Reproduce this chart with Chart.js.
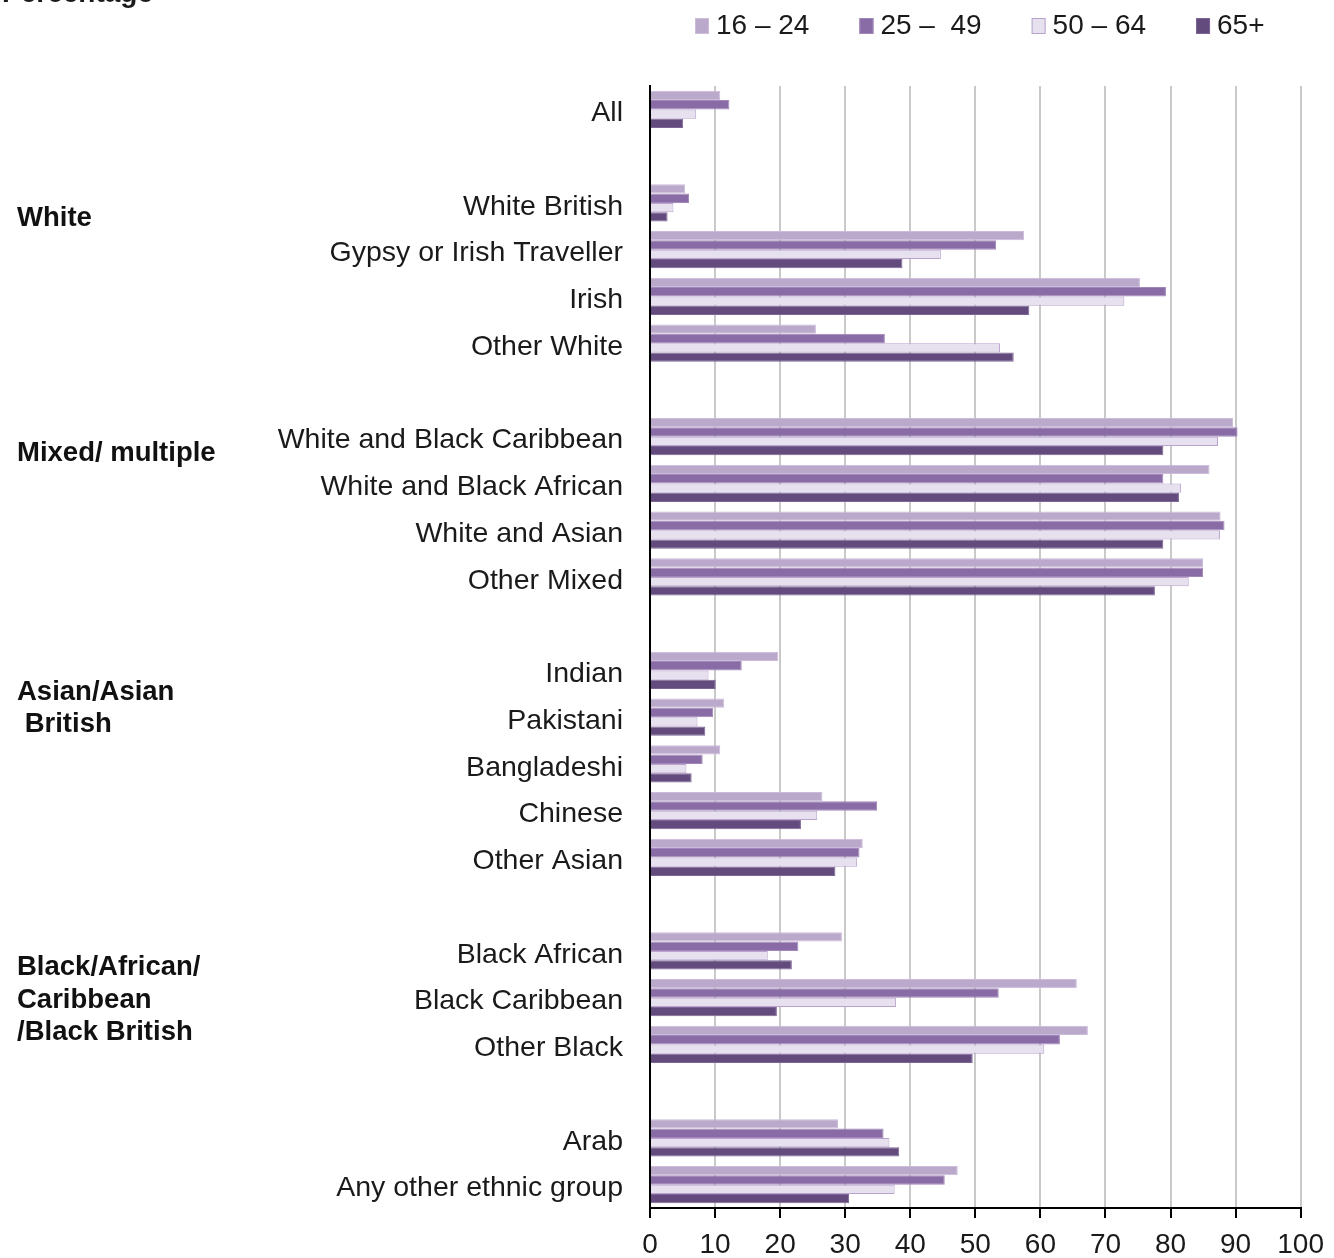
<!DOCTYPE html>
<html>
<head>
<meta charset="utf-8">
<script src="https://cdn.jsdelivr.net/npm/chart.js@4.4.0/dist/chart.umd.min.js"></script>
<style>
html,body{margin:0;padding:0;background:#ffffff;}
#wrap{width:1334px;height:1258px;position:relative;overflow:hidden;}
canvas{display:block;}
</style>
</head>
<body>
<div id="wrap"><canvas id="c" width="1334" height="1258"></canvas></div>
<script>
// ---------- data ----------
const categories = [
  'All', '',
  'White British', 'Gypsy or Irish Traveller', 'Irish', 'Other White', '',
  'White and Black Caribbean', 'White and Black African', 'White and Asian', 'Other Mixed', '',
  'Indian', 'Pakistani', 'Bangladeshi', 'Chinese', 'Other Asian', '',
  'Black African', 'Black Caribbean', 'Other Black', '',
  'Arab', 'Any other ethnic group'
];
const seriesLabels = ['16 \u2013 24', '25 \u2013  49', '50 \u2013 64', '65+'];
const age16to24 = [10.8, null, 5.4, 57.5, 75.3, 25.5, null, 89.6, 86.0, 87.7, 85.0, null, 19.7, 11.4, 10.8, 26.5, 32.7, null, 29.5, 65.6, 67.3, null, 28.9, 47.3];
const age25to49 = [12.2, null, 6.0, 53.2, 79.3, 36.1, null, 90.3, 78.9, 88.3, 85.0, null, 14.1, 9.7, 8.1, 34.9, 32.2, null, 22.8, 53.6, 63.0, null, 35.9, 45.3];
const age50to64 = [7.1, null, 3.6, 44.7, 72.9, 53.8, null, 87.3, 81.6, 87.6, 82.8, null, 9.0, 7.3, 5.6, 25.7, 31.8, null, 18.1, 37.8, 60.6, null, 36.8, 37.6];
const age65plus = [5.1, null, 2.7, 38.8, 58.3, 55.9, null, 78.9, 81.3, 78.9, 77.6, null, 10.1, 8.5, 6.4, 23.2, 28.5, null, 21.8, 19.5, 49.6, null, 38.3, 30.6];
const xTicks = [0, 10, 20, 30, 40, 50, 60, 70, 80, 90, 100];
const groupNames = [['White'], ['Mixed/ multiple'], ['Asian/Asian', ' British'], ['Black/African/', 'Caribbean', '/Black British']];
const groupAnchors = ['White British', 'White and Black Caribbean', 'Indian', 'Black African'];
const axisTitle = 'Percentage';

// ---------- styles ----------
const FONT = '"Liberation Sans", Arial, Helvetica, sans-serif';
const fills = ['#bba9cc', '#896ca5', '#e7e1ef', '#634b7e'];
const borders = ['#cbbcd9', '#a288ba', '#b9a3cd', '#7d6696'];
const groupOffsets = [16, 17, 22, 17];
const groupLineGap = 32.5;

const datasets = [age16to24, age25to49, age50to64, age65plus].map((d, i) => ({
  label: seriesLabels[i],
  data: d,
  backgroundColor: fills[i],
  borderColor: borders[i],
  borderWidth: 1,
  categoryPercentage: 0.8,
  barPercentage: 1.0
}));

const decorPlugin = {
  id: 'decor',
  afterDraw(chart) {
    const ctx = chart.ctx;
    const y = chart.scales.y;
    ctx.save();
    // axis title (partly above the canvas, as in the reference)
    ctx.fillStyle = '#1a1a1a';
    ctx.font = 'bold 28px ' + FONT;
    ctx.textAlign = 'left';
    ctx.textBaseline = 'alphabetic';
    ctx.fillText(axisTitle, 2, 2);

    // group labels
    ctx.font = 'bold 27.5px ' + FONT;
    ctx.textBaseline = 'middle';
    ctx.fillStyle = '#111111';
    groupNames.forEach((lines, gi) => {
      const idx = categories.indexOf(groupAnchors[gi]);
      const base = y.getPixelForValue(idx) + groupOffsets[gi];
      lines.forEach((ln, li) => {
        ctx.fillText(ln, 17, base + li * groupLineGap);
      });
    });

    // legend
    ctx.font = '28px ' + FONT;
    ctx.textBaseline = 'middle';
    let x = 695;
    const ly = 26;
    chart.data.datasets.forEach((ds) => {
      ctx.fillStyle = ds.backgroundColor;
      ctx.fillRect(x, ly - 8, 14, 16);
      ctx.strokeStyle = ds.borderColor;
      ctx.lineWidth = 1;
      ctx.strokeRect(x + 0.5, ly - 7.5, 13, 15);
      ctx.fillStyle = '#1a1a1a';
      ctx.fillText(ds.label, x + 21, ly);
      x += 21 + ctx.measureText(ds.label).width + 50;
    });
    ctx.restore();
  }
};

new Chart(document.getElementById('c'), {
  type: 'bar',
  data: { labels: categories, datasets },
  options: {
    indexAxis: 'y',
    responsive: false,
    animation: false,
    layout: { padding: { top: 86, right: 33, left: 0, bottom: 0 } },
    plugins: {
      legend: { display: false },
      tooltip: { enabled: false }
    },
    scales: {
      x: {
        type: 'linear',
        position: 'bottom',
        min: 0,
        max: 100,
        afterBuildTicks: (s) => { s.ticks = xTicks.map(v => ({ value: v })); },
        afterFit: (s) => { s.height = 50; },
        ticks: {
          font: { family: FONT, size: 28 },
          color: '#1a1a1a',
          padding: 10,
          maxRotation: 0,
          autoSkip: false
        },
        grid: {
          color: '#c9c9c9',
          lineWidth: 2,
          tickColor: '#000000',
          tickLength: 10,
          drawTicks: true
        },
        border: { display: true, color: '#000000', width: 2 }
      },
      y: {
        type: 'category',
        labels: categories,
        offset: true,
        afterFit: (s) => { s.width = 650; },
        ticks: {
          font: { family: FONT, size: 28.5 },
          color: '#1a1a1a',
          padding: 27,
          labelOffset: 4,
          autoSkip: false
        },
        grid: { display: false, drawTicks: false },
        border: { display: true, color: '#000000', width: 2 }
      }
    }
  },
  plugins: [decorPlugin]
});
</script>
</body>
</html>
